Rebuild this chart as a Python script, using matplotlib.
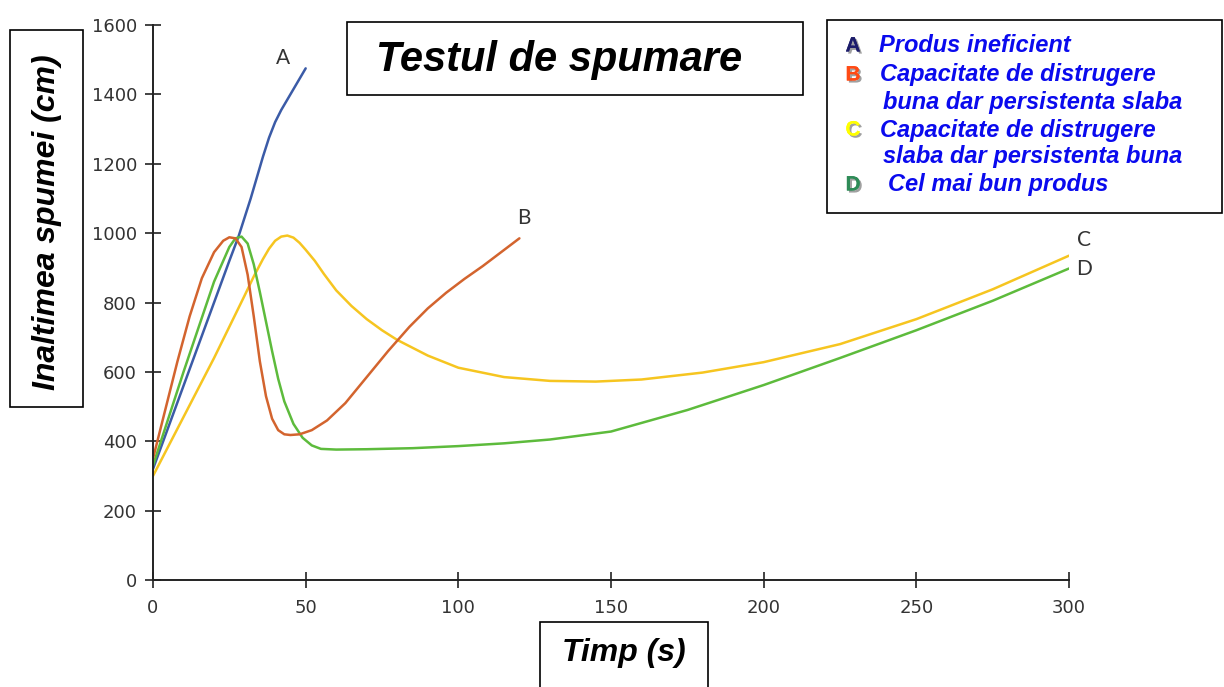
import matplotlib
matplotlib.use("Agg")
import matplotlib.pyplot as plt
from matplotlib.patches import Rectangle
import matplotlib.patheffects as pe

# curve A - produs ineficient
a_t = [0, 5, 10, 15, 20, 25, 28, 32, 36, 38, 40, 42, 44, 46, 48, 50]
a_h = [320, 440, 560, 680, 800, 920, 990, 1100, 1220, 1275, 1320, 1355, 1385, 1415, 1445, 1475]

# curve B
b_t = [0, 4, 8, 12, 16, 20, 23, 25, 27, 29, 31, 33, 35, 37, 39, 41, 43, 45, 48, 52, 57, 63, 70, 77, 84, 90, 96, 102, 108, 114, 120]
b_h = [350, 490, 630, 760, 870, 945, 978, 988, 985, 960, 880, 760, 630, 530, 465, 432, 420, 418, 420, 432, 460, 510, 585, 660, 730, 783, 828, 868, 905, 945, 985]

# curve C
c_t = [0, 10, 20, 30, 33, 36, 38, 40, 42, 44, 46, 48, 50, 53, 56, 60, 65, 70, 75, 80, 90, 100, 115, 130, 145, 160, 180, 200, 225, 250, 275, 300]
c_h = [300, 470, 640, 820, 875, 925, 955, 978, 990, 993, 987, 972, 952, 920, 882, 835, 790, 752, 720, 692, 647, 612, 585, 574, 572, 578, 598, 628, 680, 752, 838, 935]

# curve D - cel mai bun
d_t = [0, 10, 20, 25, 27, 29, 31, 33, 35, 37, 39, 41, 43, 46, 49, 52, 55, 60, 70, 85, 100, 115, 130, 150, 175, 200, 225, 250, 275, 300]
d_h = [330, 600, 860, 960, 985, 990, 970, 910, 830, 745, 660, 580, 515, 450, 410, 388, 378, 376, 377, 380, 386, 394, 405, 428, 490, 562, 640, 720, 805, 898]

xticks = [0, 50, 100, 150, 200, 250, 300]
yticks = [0, 200, 400, 600, 800, 1000, 1200, 1400, 1600]

W, H = 1224, 687
fig = plt.figure(figsize=(W / 100, H / 100), dpi=100)
ax = fig.add_axes([153 / W, 1 - 580 / H, (1069 - 153) / W, (580 - 25) / H])

lw = 1.8
kw = dict(lw=lw, solid_joinstyle="round", solid_capstyle="round")
ax.plot(a_t, a_h, color="#3b5ba7", **kw)
ax.plot(c_t, c_h, color="#f6c520", **kw)
ax.plot(d_t, d_h, color="#5dbb3c", **kw)
ax.plot(b_t, b_h, color="#d3642e", **kw)

ax.set_xlim(0, 300)
ax.set_ylim(0, 1600)
ax.set_xticks(xticks)
ax.set_yticks(yticks)
for s in ["top", "right"]:
    ax.spines[s].set_visible(False)
for s in ["left", "bottom"]:
    ax.spines[s].set_linewidth(1.4)
    ax.spines[s].set_color("#222222")
ax.tick_params(direction="inout", length=11, width=1.2, colors="#222222",
               labelsize=13, labelcolor="#333333")
ax.tick_params(axis="x", pad=8)
ax.tick_params(axis="y", pad=6)

for txt, x, y in [("A", 42.6, 1505), ("B", 121.5, 1043), ("C", 305, 980), ("D", 305, 896)]:
    ax.text(x, y, txt, fontsize=15, family="Lato", color="#333333",
            ha="center", va="center", clip_on=False)

# boxes in pixel coords
def box(x0, y0, x1, y1):
    fig.patches.append(Rectangle((x0 / W, 1 - y1 / H), (x1 - x0) / W, (y1 - y0) / H,
                                 transform=fig.transFigure, fill=False,
                                 edgecolor="black", lw=1.2))

def ftext(x, y, s, **kw):
    fig.text(x / W, 1 - y / H, s, **kw)

box(347, 22, 803, 95)
ftext(559, 60, "Testul de spumare", fontsize=30, fontweight="bold", style="italic",
      family="Liberation Sans", ha="center", va="center")

box(10, 30, 83, 407)
ftext(47, 222, "Inaltimea spumei (cm)", fontsize=23, fontweight="bold", style="italic",
      family="Liberation Sans", ha="center", va="center", rotation=90)

box(540, 622, 708, 690)
ftext(624, 653, "Timp (s)", fontsize=23, fontweight="bold", style="italic",
      family="Liberation Sans", ha="center", va="center")

box(827, 20, 1222, 213)
shadow = [pe.withSimplePatchShadow(offset=(1.5, -1.5), shadow_rgbFace="#888888", alpha=0.8), pe.Normal()]
letters = [("A", "#1c1c6a", 46), ("B", "#ff4a14", 75), ("C", "#ffff00", 130), ("D", "#2e8b57", 185)]
for l, col, y in letters:
    ftext(853, y, l, fontsize=15, fontweight="bold", family="Liberation Sans",
          color=col, ha="center", va="center", path_effects=shadow)

lines = [(879, 46, "Produs ineficient"),
         (880, 75, "Capacitate de distrugere"),
         (883, 102, "buna dar persistenta slaba"),
         (880, 130, "Capacitate de distrugere"),
         (883, 157, "slaba dar persistenta buna"),
         (888, 185, "Cel mai bun produs")]
for x, y, s in lines:
    ftext(x, y, s, fontsize=17, fontweight="bold", style="italic",
          family="Liberation Sans", color="#0a0aee", ha="left", va="center")

fig.savefig("out.png", dpi=100, facecolor="white")
